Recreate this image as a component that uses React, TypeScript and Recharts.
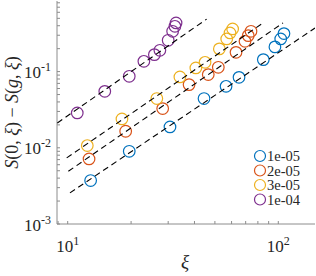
import React from 'react';
import { ScatterChart, Scatter, XAxis, YAxis, Customized } from 'recharts';

const seriesNames = ['1e-05', '2e-05', '3e-05', '1e-04'];
const colors = ['#0072BD', '#D95319', '#EDB120', '#7E2F8E'];

const xi1 = [12.85, 19.6, 30.6, 44.4, 56.5, 65.1, 84.9, 96.4, 102.7, 106.4];
const s1 = [0.00372, 0.009, 0.0188, 0.0443, 0.0641, 0.0841, 0.1437, 0.211, 0.2685, 0.3155];
const xi2 = [12.63, 18.85, 28.25, 37.7, 46.5, 51.9, 63.0, 69.5, 72.0, 74.2];
const s2 = [0.00715, 0.0165, 0.0327, 0.0675, 0.0914, 0.1139, 0.179, 0.2497, 0.2968, 0.338];
const xi3 = [12.39, 18.1, 26.5, 34.1, 40.6, 44.9, 52.5, 56.9, 59.0, 60.7];
const s3 = [0.0107, 0.02394, 0.0443, 0.0852, 0.1118, 0.1324, 0.1986, 0.2685, 0.322, 0.3634];
const xi4 = [11.1, 15.0, 19.6, 23.0, 25.8, 27.4, 30.0, 31.5, 32.3, 32.7];
const s4 = [0.0287, 0.0551, 0.0868, 0.1365, 0.167, 0.1904, 0.2576, 0.338, 0.393, 0.4355];

const fitX1 = [10.25, 149.4];
const fitY1 = [0.00256, 0.373];
const fitX2 = [10.07, 105.3];
const fitY2 = [0.00492, 0.4355];
const fitX3 = [9.89, 83.0];
const fitY3 = [0.00737, 0.4195];
const fitX4 = [8.93, 45.7];
const fitY4 = [0.0212, 0.489];

const xMajor = [10, 100];
const xMinor = [9, 20, 30, 40, 50, 60, 70, 80, 90];
const yMajor = [0.001, 0.01, 0.1];
const yMinor = [
  0.002, 0.003, 0.004, 0.005, 0.006, 0.007, 0.008, 0.009,
  0.02, 0.03, 0.04, 0.05, 0.06, 0.07, 0.08, 0.09,
  0.2, 0.3, 0.4, 0.5, 0.6, 0.7, 0.8,
];
const xExp: Record<number, string> = { 10: '1', 100: '2' };
const yExp: Record<number, string> = { 0.001: '-3', 0.01: '-2', 0.1: '-1' };

const xDomain = [8.896, 149.4];
const yDomain = [0.001, 0.8444];

const zip = (xs: number[], ys: number[]) => xs.map((x, i) => ({ x, y: ys[i] }));
const series = [zip(xi1, s1), zip(xi2, s2), zip(xi3, s3), zip(xi4, s4)];
const fits = [zip(fitX1, fitY1), zip(fitX2, fitY2), zip(fitX3, fitY3), zip(fitX4, fitY4)];

const FONT = "'Liberation Serif', 'DejaVu Serif', serif";
const AXIS = '#8c8c8c';
const TXT = '#262626';
const TL = 3;

const isMajor = (v: number, arr: number[]) => arr.some((m) => Math.abs(m - v) / m < 1e-6);

const BottomTick = (p: any) => {
  const v = p.payload.value;
  const major = isMajor(v, xMajor);
  return (
    <g>
      <line x1={p.x} x2={p.x} y1={p.y} y2={p.y - TL} stroke={AXIS} strokeWidth={1} />
      {major && (
        <text x={p.x} y={p.y + 28} textAnchor="middle" style={{ fontFamily: FONT }} fontSize={17} fill={TXT}>
          <tspan>10</tspan>
          <tspan dy={-7} fontSize={12}>{xExp[v]}</tspan>
        </text>
      )}
    </g>
  );
};

const TopTick = (p: any) => (
  <line x1={p.x} x2={p.x} y1={p.y} y2={p.y + TL} stroke={AXIS} strokeWidth={1} />
);

const LeftTick = (p: any) => {
  const v = p.payload.value;
  const major = isMajor(v, yMajor);
  return (
    <g>
      <line x1={p.x} x2={p.x + TL} y1={p.y} y2={p.y} stroke={AXIS} strokeWidth={1} />
      {major && (
        <text x={p.x - 6} y={p.y + 6.5} textAnchor="end" style={{ fontFamily: FONT }} fontSize={17} fill={TXT}>
          <tspan>10</tspan>
          <tspan dy={-7} fontSize={12}>{yExp[v]}</tspan>
        </text>
      )}
    </g>
  );
};

const RightTick = (p: any) => (
  <line x1={p.x} x2={p.x - TL} y1={p.y} y2={p.y} stroke={AXIS} strokeWidth={1} />
);

const Overlay = () => (
  <g style={{ fontFamily: FONT }} fill={TXT}>
    <text
      x={17.5}
      y={112.5}
      transform="rotate(-90, 17.5, 112.5)"
      textAnchor="middle"
      fontSize={18}
      style={{ fontFamily: FONT }}
    >
      <tspan fontStyle="italic">S</tspan>
      <tspan>(0, </tspan>
      <tspan fontStyle="italic">ξ</tspan>
      <tspan>) − </tspan>
      <tspan fontStyle="italic">S</tspan>
      <tspan>(</tspan>
      <tspan fontStyle="italic">g</tspan>
      <tspan>, </tspan>
      <tspan fontStyle="italic">ξ</tspan>
      <tspan>)</tspan>
    </text>
    <text x={185} y={268} textAnchor="middle" fontSize={19} fontStyle="italic" style={{ fontFamily: FONT }}>ξ</text>
    {seriesNames.map((n, i) => (
      <g key={n}>
        <circle cx={260} cy={156 + 14.5 * i} r={5.5} fill="none" stroke={colors[i]} strokeWidth={1.2} />
        <text x={267} y={156 + 14.5 * i + 5} fontSize={14.5} fill={TXT} style={{ fontFamily: FONT }}>{n}</text>
      </g>
    ))}
  </g>
);

const allX = [...xMinor, ...xMajor].sort((a, b) => a - b);
const allY = [...yMinor, ...yMajor].sort((a, b) => a - b);

export default function App() {
  return (
    <div style={{ position: 'absolute', left: 0, top: 0, width: 316, height: 276, background: '#fff' }}>
      <ScatterChart width={316} height={276} margin={{ top: 1, right: 1, bottom: 0, left: 0 }}>
        <XAxis
          xAxisId="b"
          type="number"
          dataKey="x"
          scale="log"
          domain={xDomain}
          allowDataOverflow
          ticks={allX}
          interval={0}
          height={52}
          tickSize={0}
          tickMargin={0}
          tickLine={false}
          axisLine={{ stroke: AXIS }}
          tick={BottomTick}
        />
        <XAxis
          xAxisId="t"
          orientation="top"
          type="number"
          dataKey="x"
          scale="log"
          domain={xDomain}
          allowDataOverflow
          ticks={allX}
          interval={0}
          height={0}
          tickSize={0}
          tickMargin={0}
          tickLine={false}
          axisLine={{ stroke: AXIS }}
          tick={TopTick}
        />
        <YAxis
          yAxisId="l"
          type="number"
          dataKey="y"
          scale="log"
          domain={yDomain}
          allowDataOverflow
          ticks={allY}
          interval={0}
          width={57}
          tickSize={0}
          tickMargin={0}
          tickLine={false}
          axisLine={{ stroke: AXIS }}
          tick={LeftTick}
        />
        <YAxis
          yAxisId="r"
          orientation="right"
          type="number"
          dataKey="y"
          scale="log"
          domain={yDomain}
          allowDataOverflow
          ticks={allY}
          interval={0}
          width={0}
          tickSize={0}
          tickMargin={0}
          tickLine={false}
          axisLine={{ stroke: AXIS }}
          tick={RightTick}
        />
        {series.map((d, i) => (
          <Scatter
            key={'s' + i}
            xAxisId="b"
            yAxisId="l"
            data={d}
            isAnimationActive={false}
            shape={(p: any) => (
              <circle cx={p.cx} cy={p.cy} r={5.8} fill="none" stroke={colors[i]} strokeWidth={1.2} />
            )}
          />
        ))}
        {fits.map((d, i) => (
          <Scatter
            key={'f' + i}
            xAxisId="b"
            yAxisId="l"
            data={d}
            isAnimationActive={false}
            line={{ stroke: '#000', strokeWidth: 1.1, strokeDasharray: '6 4' }}
            shape={() => <g />}
          />
        ))}
        <Customized component={Overlay} />
      </ScatterChart>
    </div>
  );
}
